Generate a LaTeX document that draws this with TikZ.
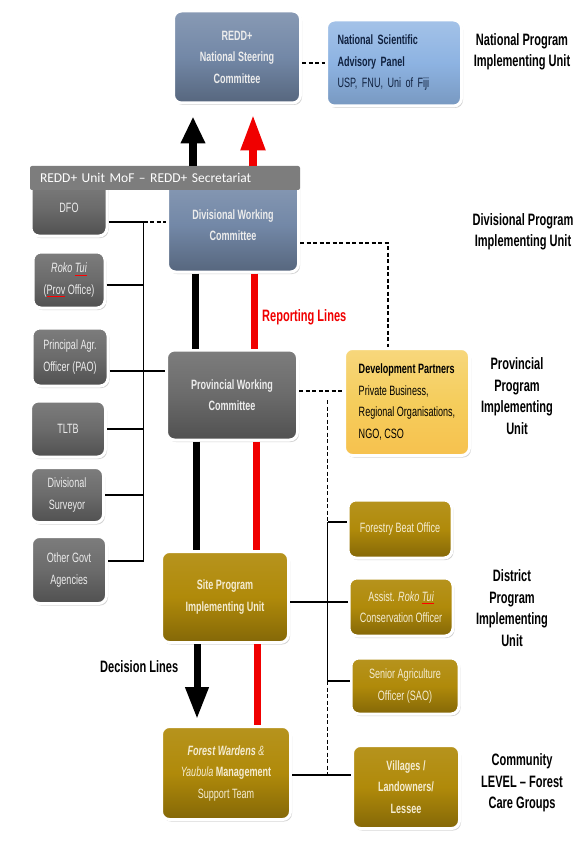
\documentclass[tikz,border=0pt]{standalone}
\usepackage{fontspec}
\setmainfont{Liberation Sans}[FakeStretch=0.67]
\newfontfamily\calib{Carlito}
\usetikzlibrary{positioning,arrows.meta,shadows}
\definecolor{steel}{HTML}{7388A7}
\definecolor{skyp}{HTML}{8DB3E2}
\definecolor{slate}{HTML}{6B6B6B}
\definecolor{gold}{HTML}{B08A0A}
\definecolor{sun}{HTML}{F5CD5C}
\definecolor{barGray}{HTML}{7D7D7D}
\definecolor{pale}{HTML}{ECECEC}
\definecolor{cream}{HTML}{F4ECD2}
\definecolor{navy}{HTML}{10213F}
\definecolor{redline}{HTML}{F00000}
\newcommand\spellmark[1]{\setbox0\hbox{#1}\rlap{\textcolor{red}{\rule[-2.5pt]{\wd0}{0.7pt}}}\box0\relax}

\begin{document}
\begin{tikzpicture}[x=1pt,y=-1pt,font=\fontsize{13.5}{21.5}\selectfont]
  \tikzset{
    dims/.style 2 args={minimum width=#1,minimum height=#2},
    unit/.style={draw=white,line width=3pt,rounded corners=8pt,align=center,inner sep=3pt,
      drop shadow={opacity=0.35,shadow xshift=1.5pt,shadow yshift=-2pt}},
    steelunit/.style={unit,top color=steel!85!white,bottom color=steel!75!black,middle color=steel,
      text=pale,font=\fontsize{13.5}{21.5}\selectfont\bfseries},
    skyunit/.style={unit,top color=skyp!80!white,bottom color=skyp!85!black,middle color=skyp,text=navy},
    slateunit/.style={unit,top color=slate!88!white,bottom color=slate!75!black,middle color=slate,text=pale},
    goldunit/.style={unit,top color=gold!92!white,bottom color=gold!75!black,middle color=gold,text=cream},
    sununit/.style={unit,top color=sun!80!white,bottom color=sun!85!orange,middle color=sun,text=black},
    secbar/.style={fill=barGray,rounded corners=2pt,inner xsep=10pt,inner ysep=0pt,text width=250pt,
      minimum height=24pt,align=left,text=white,font=\calib\fontsize{13.5}{16}\selectfont},
    tier/.style={align=center,font=\fontsize{16.5}{21.5}\selectfont\bfseries},
    tag/.style={anchor=west,inner sep=1pt,font=\fontsize{16.5}{18}\selectfont\bfseries},
    link/.style={line width=1.6pt},
    dlink/.style={line width=1.6pt,dash pattern=on 4pt off 2.5pt},
    decline/.style={line width=7pt},
    repline/.style={line width=7pt,redline},
    uparrow/.style={line width=8pt,-{Triangle[width=23pt,length=27pt]}}
  }
  \fill[white] (0,0) rectangle (586,850);
  \useasboundingbox (0,0) rectangle (586,850);

  % national level
  \node[steelunit,dims={127pt}{92pt}] (nsc) at (237,57) {REDD+\\National Steering\\Committee};
  \node[skyunit,dims={135pt}{86pt},text width=113pt,align=left] (nsap) at (394,63)
    {\textbf{National Scientific}\\\textbf{Advisory Panel}\\USP, FNU, Uni of Fiji};
  \node[tier] (tnat) at (522,52) {National Program\\Implementing Unit};

  % divisional level
  \node[steelunit,dims={131pt}{94pt}] (dwc) at (233,225) {Divisional Working\\Committee};
  \node[slateunit,dims={76pt}{56pt}] (dfo) at (69,208) {DFO};
  \node[secbar,minimum width=270pt] (sec) at (165,178) {REDD+ Unit MoF – REDD+ Secretariat};
  \node[slateunit,dims={72pt}{56pt}] (roko) at (69,280) {\textit{Roko \spellmark{Tui}}\\(\spellmark{Prov} Office)};
  \node[slateunit,dims={76pt}{58pt}] (pao) at (70,357) {Principal Agr.\\Officer (PAO)};
  \node[slateunit,dims={75pt}{56pt}] (tltb) at (68,429) {TLTB};
  \node[slateunit,dims={73pt}{55pt}] (dsur) at (67,495) {Divisional\\Surveyor};
  \node[slateunit,dims={75pt}{67pt}] (ogov) at (69,570) {Other Govt\\Agencies};
  \node[tier] (tdiv) at (523,232) {Divisional Program\\Implementing Unit};

  % provincial level
  \node[slateunit,dims={131pt}{90pt},font=\fontsize{13.5}{21.5}\selectfont\bfseries] (pwc) at (232,395)
    {Provincial Working\\Committee};
  \node[sununit,dims={125pt}{107pt},align=left] (devp) at (407,402)
    {\textbf{Development Partners}\\Private Business,\\Regional Organisations,\\NGO, CSO};
  \node[tier] (tprov) at (517,396) {Provincial\\Program\\Implementing\\Unit};
  \node[tag,text=redline] (rep) at (261,317) {Reporting Lines};

  % district level
  \node[goldunit,dims={127pt}{91pt},font=\fontsize{13.5}{21.5}\selectfont\bfseries] (spiu) at (225,597)
    {Site Program\\Implementing Unit};
  \node[goldunit,dims={104pt}{58pt}] (fbo) at (400,529) {Forestry Beat Office};
  \node[goldunit,dims={104pt}{58pt}] (arto) at (401,607) {Assist. \textit{Roko \spellmark{Tui}}\\Conservation Officer};
  \node[goldunit,dims={108pt}{56pt}] (sao) at (405,686) {Senior Agriculture\\Officer (SAO)};
  \node[tier] (tdist) at (512,608) {District\\Program\\Implementing\\Unit};
  \node[tag] (dec) at (99,667) {Decision Lines};

  % community level
  \node[goldunit,dims={129pt}{93pt}] (fw) at (226,773)
    {\textbf{\textit{Forest Wardens}} \textit{\&}\\\textit{Yaubula} \textbf{Management}\\Support Team};
  \node[goldunit,dims={107pt}{83pt},font=\fontsize{13.5}{21.5}\selectfont\bfseries] (vil) at (406,787)
    {Villages /\\Landowners/\\Lessee};
  \node[tier] (tcom) at (522,783) {Community\\LEVEL – Forest\\Care Groups};

  % reporting and decision lines
  \draw[dlink] ([yshift=-6pt]nsc.east) -- ([yshift=-6pt]nsc.east -| nsap.west);
  \draw[uparrow] ([xshift=-44pt]nsc.south |- sec.north) -- ([xshift=-44pt,yshift=-12pt]nsc.south);
  \draw[uparrow,redline,-{Triangle[width=23pt,length=36pt]}] ([xshift=16pt]nsc.south |- sec.north)
    -- ([xshift=16pt,yshift=-10pt]nsc.south);
  \draw[decline] ([xshift=-38pt]dwc.south) -- ([xshift=-38pt]dwc.south |- pwc.north);
  \draw[repline] ([xshift=21pt]dwc.south) -- ([xshift=21pt]dwc.south |- pwc.north);
  \draw[decline] ([xshift=-36pt]pwc.south) -- ([xshift=-36pt]pwc.south |- spiu.north);
  \draw[repline] ([xshift=24pt]pwc.south) -- ([xshift=24pt]pwc.south |- spiu.north);
  \draw[decline,-{Triangle[width=22pt,length=32pt]}] ([xshift=-28pt]spiu.south)
    -- ([xshift=-28pt,yshift=6pt]spiu.south |- fw.north);
  \draw[repline] ([xshift=32pt]spiu.south) -- ([xshift=32pt]spiu.south |- fw.north);

  % left agencies
  \coordinate (bus) at ([xshift=35pt,yshift=-14pt]dfo.east);
  \draw[link] ([yshift=-14pt]dfo.east) -- (bus);
  \draw[dlink] (bus) -- (bus -| dwc.west);
  \draw[link] (bus) -- ([yshift=9pt]ogov.east -| bus);
  \draw[link] ([yshift=-5pt]roko.east) -- ([yshift=-5pt]roko.east -| bus);
  \draw[link] ([yshift=-14pt]pao.east) -- ([yshift=-14pt]pao.east -| pwc.west);
  \draw[link] (tltb.east) -- (tltb.east -| bus);
  \draw[link] (dsur.east) -- (dsur.east -| bus);
  \draw[link] ([yshift=9pt]ogov.east) -- ([yshift=9pt]ogov.east -| bus);

  % partners and district offices
  \draw[dlink] ([yshift=-18pt]dwc.east) -| ([xshift=-19pt]devp.north);
  \draw[dlink] ([yshift=4pt]pwc.east) -- ([yshift=4pt]pwc.east -| devp.west);
  \coordinate (rbus) at ([xshift=-19pt,yshift=129pt]fbo.west);
  \draw[dlink] (rbus) -- ([yshift=7pt]fbo.west -| rbus);
  \draw[link] ([yshift=7pt]fbo.west -| rbus) -- ([yshift=5pt]sao.west -| rbus);
  \draw[dlink] ([yshift=5pt]sao.west -| rbus) -- ([yshift=-2pt]fw.east -| rbus);
  \draw[link] ([yshift=7pt]fbo.west) -- ([yshift=7pt]fbo.west -| rbus);
  \draw[link] ([yshift=5pt]sao.west) -- ([yshift=5pt]sao.west -| rbus);
  \draw[link] ([yshift=-5pt]spiu.east) -- ([yshift=-5pt]spiu.east -| arto.west);
  \draw[link] ([yshift=-2pt]fw.east) -- ([yshift=-2pt]fw.east -| vil.west);
\end{tikzpicture}
\end{document}
